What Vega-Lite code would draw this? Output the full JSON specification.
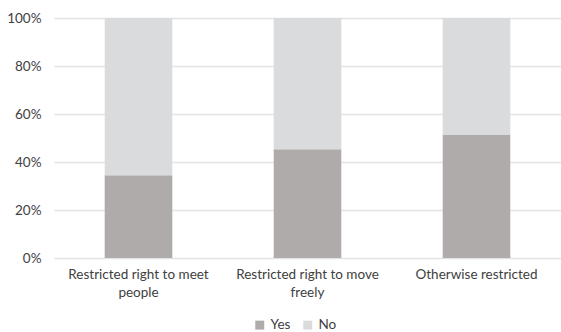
{
  "$schema": "https://vega.github.io/schema/vega-lite/v6.json",
  "width": 507,
  "height": 240,
  "autosize": {"type": "none"},
  "padding": {"left": 54, "top": 18, "right": 0, "bottom": 74},
  "background": "white",
  "data": {
    "values": [
      {"category": "Restricted right to meet people", "answer": "Yes", "order": 1, "value": 34.5},
      {"category": "Restricted right to meet people", "answer": "No", "order": 2, "value": 65.5},
      {"category": "Restricted right to move freely", "answer": "Yes", "order": 1, "value": 45.3},
      {"category": "Restricted right to move freely", "answer": "No", "order": 2, "value": 54.7},
      {"category": "Otherwise restricted", "answer": "Yes", "order": 1, "value": 51.3},
      {"category": "Otherwise restricted", "answer": "No", "order": 2, "value": 48.7}
    ]
  },
  "mark": {"type": "bar"},
  "encoding": {
    "x": {
      "field": "category",
      "type": "nominal",
      "sort": null,
      "scale": {"paddingInner": 0.6, "paddingOuter": 0.3},
      "axis": {
        "title": null,
        "labelAngle": 0,
        "domain": false,
        "ticks": false,
        "labelPadding": 9,
        "labelFont": "Lato",
        "labelFontSize": 13.5,
        "labelColor": "#404040",
        "labelLineHeight": 18,
        "labelExpr": "datum.label == 'Restricted right to meet people' ? ['Restricted right to meet', 'people'] : datum.label == 'Restricted right to move freely' ? ['Restricted right to move', 'freely'] : datum.label"
      }
    },
    "y": {
      "field": "value",
      "type": "quantitative",
      "stack": "normalize",
      "scale": {"domain": [0, 1]},
      "axis": {
        "title": null,
        "format": ".0%",
        "values": [0, 0.2, 0.4, 0.6, 0.8, 1],
        "labelOverlap": false,
        "domain": false,
        "ticks": false,
        "labelPadding": 13,
        "labelFont": "Lato",
        "labelFontSize": 13.5,
        "labelColor": "#404040",
        "gridColor": "#E3E3E3",
        "gridWidth": 1.5
      }
    },
    "color": {
      "field": "answer",
      "type": "nominal",
      "sort": ["Yes", "No"],
      "scale": {"domain": ["Yes", "No"], "range": ["#AFABAB", "#DADBDD"]},
      "legend": {
        "title": null,
        "orient": "none",
        "legendX": 199,
        "legendY": 300,
        "direction": "horizontal",
        "symbolType": "square",
        "symbolSize": 80,
        "symbolStrokeWidth": 0,
        "labelFont": "Lato",
        "labelFontSize": 13.5,
        "labelColor": "#404040",
        "columnPadding": 10,
        "labelOffset": 4
      }
    },
    "order": {"field": "order", "type": "quantitative"}
  },
  "config": {"view": {"stroke": null}}
}
